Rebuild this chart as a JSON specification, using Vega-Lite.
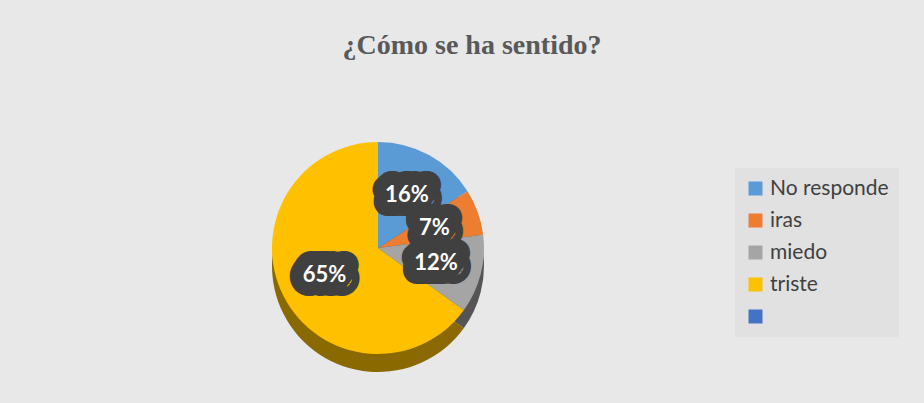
{
  "$schema": "https://vega.github.io/schema/vega-lite/v6.json",
  "width": 220,
  "height": 220,
  "autosize": {"type": "none"},
  "padding": {"left": 268, "top": 138, "right": 436, "bottom": 45},
  "background": "#e8e8e8",
  "title": {
    "text": "¿Cómo se ha sentido?",
    "font": "Liberation Serif",
    "fontSize": 28,
    "fontWeight": "bold",
    "color": "#595959",
    "anchor": "middle",
    "baseline": "alphabetic",
    "offset": 56,
    "dx": 94
  },
  "data": {
    "values": [
      {"cat": "No responde", "value": 16, "label": "16%", "idx": 1},
      {"cat": "iras", "value": 7, "label": "7%", "idx": 2},
      {"cat": "miedo", "value": 12, "label": "12%", "idx": 3},
      {"cat": "triste", "value": 65, "label": "65%", "idx": 4}
    ]
  },
  "layer": [
    {
      "mark": {"type": "arc", "outerRadius": 106, "yOffset": 18},
      "encoding": {
        "theta": {"field": "value", "type": "quantitative", "stack": true},
        "order": {"field": "idx", "type": "quantitative"},
        "color": {
          "field": "cat",
          "type": "nominal",
          "scale": {"domain": ["No responde", "iras", "miedo", "triste"], "range": ["#2f5f8f", "#a04f18", "#555555", "#8a6a00"]},
          "legend": null
        }
      }
    },
    {
      "mark": {"type": "arc", "outerRadius": 106},
      "encoding": {
        "theta": {"field": "value", "type": "quantitative", "stack": true},
        "order": {"field": "idx", "type": "quantitative"},
        "color": {
          "field": "cat",
          "type": "nominal",
          "scale": {"domain": ["No responde", "iras", "miedo", "triste", " "], "range": ["#5B9BD5", "#ED7D31", "#A5A5A5", "#FFC000", "#4472C4"]},
          "legend": {
            "title": null,
            "orient": "none",
            "legendX": 467,
            "legendY": 30,
            "symbolType": "square",
            "symbolSize": 196,
            "symbolStrokeWidth": 0,
            "labelFont": "Lato",
            "labelFontSize": 21,
            "labelColor": "#404040",
            "rowPadding": 10,
            "padding": 10,
            "fillColor": "#e1e1e1",
            "labelLimit": 300
          }
        }
      }
    },
    {
      "mark": {"type": "text", "radius": 60, "font": "Lato", "fontSize": 22, "fontWeight": "bold", "color": "#404040", "stroke": "#404040", "strokeWidth": 28, "strokeJoin": "round"},
      "encoding": {
        "theta": {"field": "value", "type": "quantitative", "stack": true},
        "order": {"field": "idx", "type": "quantitative"},
        "text": {"field": "label"}
      }
    },
    {
      "mark": {"type": "text", "radius": 60, "font": "Lato", "fontSize": 22, "fontWeight": "bold", "color": "#ffffff"},
      "encoding": {
        "theta": {"field": "value", "type": "quantitative", "stack": true},
        "order": {"field": "idx", "type": "quantitative"},
        "text": {"field": "label"}
      }
    }
  ],
  "resolve": {"scale": {"color": "independent"}, "legend": {"color": "independent"}},
  "config": {"view": {"stroke": null}}
}
